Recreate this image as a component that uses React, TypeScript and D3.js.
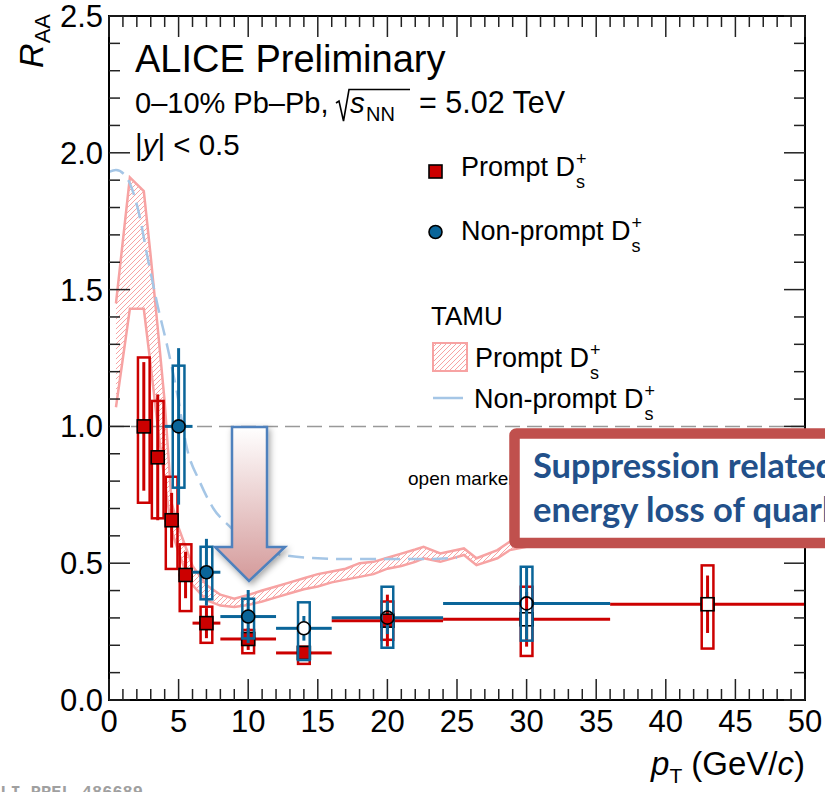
import React from "react";
import * as d3 from "d3";

// ---- measured R_AA, prompt Ds+ ----
const promptPt = [2.5, 3.5, 4.5, 5.5, 7, 10, 14, 20, 30, 43];
const promptBinLo = [2, 3, 4, 5, 6, 8, 12, 16, 24, 36];
const promptBinHi = [3, 4, 5, 6, 8, 12, 16, 24, 36, 50];
const promptRaa = [1.0, 0.887, 0.657, 0.457, 0.281, 0.223, 0.172, 0.29, 0.295, 0.35];
const promptStat = [0.235, 0.23, 0.1, 0.085, 0.055, 0.04, 0.025, 0.095, 0.1, 0.105];
const promptSysLo = [0.279, 0.223, 0.178, 0.132, 0.072, 0.052, 0.04, 0.07, 0.134, 0.162];
const promptSysHi = [0.252, 0.206, 0.159, 0.112, 0.06, 0.033, 0.023, 0.07, 0.119, 0.142];
const promptOpen = [false, false, false, false, false, false, false, false, true, true];

// ---- measured R_AA, non-prompt Ds+ ----
const nonPromptPt = [5, 7, 10, 14, 20, 30];
const nonPromptBinLo = [4, 6, 8, 12, 16, 24];
const nonPromptBinHi = [6, 8, 12, 16, 24, 36];
const nonPromptRaa = [1.0, 0.467, 0.305, 0.262, 0.301, 0.353];
const nonPromptStat = [0.286, 0.122, 0.097, 0.045, 0.06, 0.13];
const nonPromptSysLo = [0.224, 0.099, 0.08, 0.116, 0.11, 0.136];
const nonPromptSysHi = [0.222, 0.093, 0.065, 0.095, 0.113, 0.134];
const nonPromptOpen = [false, false, false, true, true, true];

// ---- TAMU model: prompt band ----
const tamuPromptPt = [0.5, 1.5, 2.5, 3.0, 3.5, 4.0, 4.5, 5.0, 5.5, 6.0, 7.0, 8.0, 9.0, 10, 11, 12, 13, 14, 15, 16, 17, 18, 19, 20, 21, 22, 22.6, 23.8, 25.5, 26.4, 27.9, 28.8, 30, 32, 34, 36];
const tamuPromptLo = [1.07, 1.43, 1.43, 1.22, 1.0, 0.8, 0.62, 0.54, 0.47, 0.42, 0.365, 0.345, 0.34, 0.347, 0.36, 0.375, 0.39, 0.405, 0.415, 0.43, 0.44, 0.45, 0.46, 0.48, 0.49, 0.505, 0.518, 0.505, 0.53, 0.493, 0.518, 0.548, 0.56, 0.58, 0.6, 0.62];
const tamuPromptHi = [1.45, 1.91, 1.86, 1.62, 1.36, 1.09, 0.72, 0.63, 0.56, 0.49, 0.42, 0.385, 0.37, 0.384, 0.4, 0.415, 0.43, 0.445, 0.46, 0.47, 0.48, 0.5, 0.505, 0.52, 0.535, 0.55, 0.56, 0.536, 0.554, 0.518, 0.548, 0.579, 0.6, 0.62, 0.64, 0.66];

// ---- TAMU model: non-prompt curve ----
const tamuNonPromptPt = [0, 0.5, 1.2, 2.1, 2.8, 3.5, 4.2, 4.9, 5.6, 6.5, 7.5, 8.7, 10, 11, 13, 15, 17, 20, 22.5, 25];
const tamuNonPromptRaa = [1.93, 1.937, 1.915, 1.79, 1.61, 1.44, 1.29, 1.12, 0.92, 0.8, 0.7, 0.633, 0.575, 0.55, 0.526, 0.518, 0.515, 0.515, 0.515, 0.52];

// ---- axes ----
const xMajorTicks = [0, 5, 10, 15, 20, 25, 30, 35, 40, 45, 50];
const yMajorTicks = [0, 0.5, 1.0, 1.5, 2.0, 2.5];

const RED = "#CC0000";
const BLUE = "#0A6599";
const PINK = "#F7A3A3";
const LIGHTBLUE = "#A5C6E6";
const FONT = "'Liberation Sans', Arial, Helvetica, sans-serif";
const CALLOUT_FONT = "Lato, 'Open Sans', sans-serif";

const W = 825;
const H = 792;
const L = 109, R = 805, T = 16, B = 700;
const BOX_HALF = 0.42; // half-width of systematic boxes, GeV/c

type Series = {
  pt: number[]; lo: number[]; hi: number[]; raa: number[]; stat: number[];
  sysLo: number[]; sysHi: number[]; open: boolean[];
};

const prompt: Series = { pt: promptPt, lo: promptBinLo, hi: promptBinHi, raa: promptRaa, stat: promptStat, sysLo: promptSysLo, sysHi: promptSysHi, open: promptOpen };
const nonPrompt: Series = { pt: nonPromptPt, lo: nonPromptBinLo, hi: nonPromptBinHi, raa: nonPromptRaa, stat: nonPromptStat, sysLo: nonPromptSysLo, sysHi: nonPromptSysHi, open: nonPromptOpen };

// "D" with stacked super/subscript, drawn as a single text element
function DsLabel({ x, y, prefix }: { x: number; y: number; prefix: string }) {
  const charW = 0.556 * 27; // rough advance used to place the stacked indices
  const w = prefix.length * charW;
  return (
    <text x={x} y={y} fontSize={27}>
      {prefix}
      <tspan fontSize={18} dy={-11} dx={1}>+</tspan>
      <tspan fontSize={18} dy={23} dx={-10.5}>s</tspan>
    </text>
  );
}

export default function App() {
  const x = d3.scaleLinear().domain([0, 50]).range([L, R]);
  const y = d3.scaleLinear().domain([0, 2.5]).range([B, T]);

  const xMinor = d3.range(0, 51, 1);
  const yMinor = d3.range(0, 26, 1).map((v) => v / 10);

  const band = tamuPromptPt.map((p, i) => ({ p, lo: tamuPromptLo[i], hi: tamuPromptHi[i] }));
  const areaGen = d3.area<{ p: number; lo: number; hi: number }>()
    .x((d) => x(d.p)).y0((d) => y(d.lo)).y1((d) => y(d.hi));
  const loLine = d3.line<{ p: number; lo: number; hi: number }>().x((d) => x(d.p)).y((d) => y(d.lo));
  const hiLine = d3.line<{ p: number; lo: number; hi: number }>().x((d) => x(d.p)).y((d) => y(d.hi));
  const npCurve = d3.line<number>()
    .x((_, i) => x(tamuNonPromptPt[i]))
    .y((d) => y(d))
    .curve(d3.curveMonotoneX)(tamuNonPromptRaa) || "";

  const boxes = (s: Series, color: string) =>
    s.pt.map((p, i) => (
      <rect key={"b" + i} x={x(p - BOX_HALF)} y={y(s.raa[i] + s.sysHi[i])}
        width={x(p + BOX_HALF) - x(p - BOX_HALF)}
        height={y(s.raa[i] - s.sysLo[i]) - y(s.raa[i] + s.sysHi[i])}
        fill="none" stroke={color} strokeWidth={2.5} />
    ));

  const bars = (s: Series, color: string, r: number) =>
    s.pt.map((p, i) => {
      const cx = x(p), cy = y(s.raa[i]);
      const g = s.open[i] ? r : 0;
      const segs: JSX.Element[] = [];
      const yt = y(s.raa[i] + s.stat[i]), yb = y(s.raa[i] - s.stat[i]);
      if (cy - g > yt) segs.push(<line key="vt" x1={cx} x2={cx} y1={yt} y2={cy - g} />);
      if (yb > cy + g) segs.push(<line key="vb" x1={cx} x2={cx} y1={cy + g} y2={yb} />);
      const xl = x(s.lo[i]), xr = x(s.hi[i]);
      if (cx - g > xl) segs.push(<line key="hl" x1={xl} x2={cx - g} y1={cy} y2={cy} />);
      if (xr > cx + g) segs.push(<line key="hr" x1={cx + g} x2={xr} y1={cy} y2={cy} />);
      return <g key={"e" + i} stroke={color} strokeWidth={3}>{segs}</g>;
    });

  const squares = (s: Series, color: string, size: number) =>
    s.pt.map((p, i) => (
      <rect key={"m" + i} x={x(p) - size / 2} y={y(s.raa[i]) - size / 2} width={size} height={size}
        fill={s.open[i] ? "none" : color} stroke="#000" strokeWidth={1.6} />
    ));
  const circles = (s: Series, color: string, r: number) =>
    s.pt.map((p, i) => (
      <circle key={"c" + i} cx={x(p)} cy={y(s.raa[i])} r={r}
        fill={s.open[i] ? "none" : color} stroke="#000" strokeWidth={1.6} />
    ));

  const tickColor = "#222";

  return (
    <svg width={W} height={H} style={{ position: "absolute", left: 0, top: 0, background: "#fff" }}
      fontFamily={FONT}>
      <defs>
        <clipPath id="plotArea">
          <rect x={L} y={T} width={R - L} height={B - T} />
        </clipPath>
        <pattern id="hatch" patternUnits="userSpaceOnUse" width={5} height={5}>
          <path d="M-1,1 l2,-2 M0,5 l5,-5 M4,6 l2,-2" stroke={PINK} strokeWidth={1} />
        </pattern>
        <linearGradient id="arrowFill" x1="0" y1="0" x2="0" y2="1">
          <stop offset="0" stopColor="#FFFFFF" />
          <stop offset="1" stopColor="#D49A9A" />
        </linearGradient>
        <filter id="shadow" x="-30%" y="-30%" width="160%" height="160%">
          <feDropShadow dx="2" dy="3" stdDeviation="3" floodColor="#000" floodOpacity="0.35" />
        </filter>
      </defs>

      {/* unity reference */}
      <line x1={x(0)} x2={x(50)} y1={y(1)} y2={y(1)} stroke="#999" strokeWidth={1.5} strokeDasharray="15 7" />

      <g clipPath="url(#plotArea)">
        {/* TAMU prompt band */}
        <path d={areaGen(band) || ""} fill="url(#hatch)" />
        <path d={loLine(band) || ""} fill="none" stroke={PINK} strokeWidth={2.5} />
        <path d={hiLine(band) || ""} fill="none" stroke={PINK} strokeWidth={2.5} />
        {/* TAMU non-prompt */}
        <path d={npCurve} fill="none" stroke={LIGHTBLUE} strokeWidth={2.5} strokeDasharray="16 8" />

        {/* prompt Ds */}
        {boxes(prompt, RED)}
        {bars(prompt, RED, 6.5)}
        {squares(prompt, RED, 13)}
        {/* non-prompt Ds */}
        {boxes(nonPrompt, BLUE)}
        {bars(nonPrompt, BLUE, 6.5)}
        {circles(nonPrompt, BLUE, 6.5)}
      </g>

      {/* frame and ticks */}
      <rect x={L} y={T} width={R - L} height={B - T} fill="none" stroke="#000" strokeWidth={2} />
      <g stroke={tickColor} strokeWidth={1.5}>
        {xMinor.map((v) => {
          const major = v % 5 === 0;
          const len = major ? 21 : 11;
          return (
            <g key={"xt" + v}>
              <line x1={x(v)} x2={x(v)} y1={B} y2={B - len} />
              <line x1={x(v)} x2={x(v)} y1={T} y2={T + len} />
            </g>
          );
        })}
        {yMinor.map((v, i) => {
          const major = i % 5 === 0;
          const len = major ? 21 : 11;
          return (
            <g key={"yt" + i}>
              <line x1={L} x2={L + len} y1={y(v)} y2={y(v)} />
              <line x1={R} x2={R - len} y1={y(v)} y2={y(v)} />
            </g>
          );
        })}
      </g>
      {/* tick labels */}
      <g fontSize={31} fill="#000">
        {xMajorTicks.map((v) => (
          <text key={"xl" + v} x={x(v)} y={732} textAnchor="middle">{v}</text>
        ))}
        {yMajorTicks.map((v) => (
          <text key={"yl" + v} x={103} y={y(v) + 11} textAnchor="end">{v.toFixed(1)}</text>
        ))}
      </g>

      {/* axis titles */}
      <text transform="translate(43,14) rotate(-90)" textAnchor="end" fontSize={34}>
        <tspan fontStyle="italic">R</tspan>
        <tspan fontSize={22} dy={7}>AA</tspan>
      </text>
      <text x={805} y={775} textAnchor="end" fontSize={33}>
        <tspan fontStyle="italic">p</tspan>
        <tspan fontSize={21} dy={8}>T</tspan>
        <tspan dy={-8} dx={9}>(GeV/</tspan>
        <tspan fontStyle="italic">c</tspan>
        <tspan>)</tspan>
      </text>

      {/* header */}
      <text x={135} y={72} fontSize={38}>ALICE Preliminary</text>
      <text x={135} y={113} fontSize={29}>0–10% Pb–Pb,</text>
      <path d="M336,103 L339,101 L343.5,121 L349,89.5 L410,89.5" fill="none" stroke="#000" strokeWidth={1.6} />
      <text x={350} y={113} fontSize={29.5} fontStyle="italic">s</text>
      <text x={366} y={121} fontSize={20}>NN</text>
      <text x={419} y={113} fontSize={30.5}>= 5.02 TeV</text>
      <text x={135} y={155} fontSize={29.5}>
        <tspan>|</tspan>
        <tspan fontStyle="italic">y</tspan>
        <tspan>| &lt; 0.5</tspan>
      </text>

      {/* legend */}
      <rect x={429} y={165} width={13} height={13} fill={RED} stroke="#000" strokeWidth={1.6} />
      <DsLabel x={461} y={176} prefix="Prompt D" />
      <circle cx={435.5} cy={232} r={6.5} fill={BLUE} stroke="#000" strokeWidth={1.6} />
      <DsLabel x={461} y={240} prefix="Non-prompt D" />

      <text x={431} y={325} fontSize={26}>TAMU</text>
      <rect x={433} y={343} width={34} height={28} fill="url(#hatch)" stroke={PINK} strokeWidth={2} />
      <DsLabel x={475} y={367} prefix="Prompt D" />
      <line x1={433} x2={463} y1={398} y2={398} stroke={LIGHTBLUE} strokeWidth={2.5} />
      <DsLabel x={474} y={408} prefix="Non-prompt D" />

      <text x={408} y={485} fontSize={19}>open markers</text>

      {/* emphasis arrow */}
      <path d="M232,427 L267,427 L267,547 L285,547 L249,581 L215,547 L232,547 Z"
        fill="url(#arrowFill)" stroke="#4F81BD" strokeWidth={2.5} strokeLinejoin="miter" filter="url(#shadow)" />

      {/* callout box */}
      <rect x={514.5} y={433.5} width={340} height={109.5} rx={2} fill="#fff" stroke="#C0504D" strokeWidth={10.5} />
      <text x={533} y={478} fontSize={34.5} fontWeight="bold" fontFamily={CALLOUT_FONT} fill="#22508A">Suppression related to</text>
      <text x={533} y={522} fontSize={34.5} fontWeight="bold" fontFamily={CALLOUT_FONT} fill="#22508A">energy loss of quarks</text>

      {/* record id */}
      <text x={-10} y={797} fontSize={17} fontFamily="'Liberation Mono', 'DejaVu Sans Mono', monospace" fontWeight="bold" fill="#A0A0A0">ALI-PREL-486689</text>
    </svg>
  );
}
